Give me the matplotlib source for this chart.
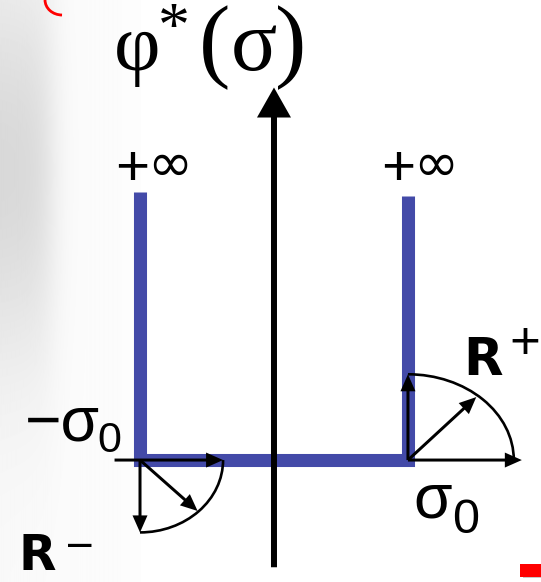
import numpy as np
import matplotlib
matplotlib.use("Agg")
import matplotlib.pyplot as plt
from matplotlib.patches import Arc, Rectangle

# sigma measured in units of sigma_0, phi* drawn as a well with "infinite" walls
sigma_wall = [-1.0, -1.0, 1.0, 1.0]
phi_wall = [2.0, 0.0, 0.0, 1.97]

# normal cone R- at -sigma_0: tips of the three arrows
cone_minus_tip_x = [-0.38, -0.57, -1.0]
cone_minus_tip_y = [0.0, -0.38, -0.54]
cone_minus_radii = (0.62, 0.54)
cone_minus_tail = -1.19

# normal cone R+ at +sigma_0
cone_plus_tip_x = [1.85, 1.51, 1.0]
cone_plus_tip_y = [0.0, 0.47, 0.64]
cone_plus_radii = (0.79, 0.64)

# vertical phi* axis
axis_low, axis_high = -0.80, 2.78

BLUE = "#434aa8"

fig = plt.figure(figsize=(5.41, 5.82), dpi=100)
ax = fig.add_axes([0, 0, 1, 1])
ax.set_xlim(-2.045, 1.993)
ax.set_ylim(-0.910, 3.433)
ax.set_aspect("equal")
ax.axis("off")

# faded grey photo on the left edge
yy, xx = np.mgrid[0:582, 0:140]
shade = 0.13 / (1 + np.exp((xx - 50) / 8)) * np.exp(-((yy - 170) / 200) ** 2)
shade += 0.012 * (1 - xx / 140)
bg = 0.99 - shade
ax.imshow(bg, cmap="gray", vmin=0, vmax=1, extent=(-2.045, -1.0, -0.910, 3.433),
          aspect="auto", zorder=0, interpolation="bilinear")

# phi* well
ax.plot(sigma_wall, phi_wall, color=BLUE, lw=9.4, solid_joinstyle="miter",
        solid_capstyle="butt", zorder=2)

# vertical axis
ax.arrow(0, axis_low, 0, axis_high - axis_low, width=6 / 134, head_width=34 / 134,
         head_length=30 / 134, length_includes_head=True, color="black", lw=0, zorder=3)


def cone(x0, tips_x, tips_y, radii, theta1, theta2, tail=None):
    for tx, ty in zip(tips_x, tips_y):
        sx = tail if (tail is not None and ty == 0) else x0
        ax.arrow(sx, 0, tx - sx, ty, width=3 / 134, head_width=15 / 134,
                 head_length=17 / 134, length_includes_head=True, color="black",
                 lw=0, zorder=4)
    ax.add_patch(Arc((x0, 0), 2 * radii[0], 2 * radii[1], theta1=theta1, theta2=theta2,
                     color="black", lw=1.9, zorder=4))


cone(-1.0, cone_minus_tip_x, cone_minus_tip_y, cone_minus_radii, 270, 360, tail=cone_minus_tail)
cone(1.0, cone_plus_tip_x, cone_plus_tip_y, cone_plus_radii, 0, 90)

serif = "Liberation Serif"
sans = "Liberation Sans"

# title phi*(sigma)
ax.text(-1.02, 2.91, "φ", fontsize=58, family=serif, ha="center", va="baseline")
ax.text(-0.75, 3.09, "*", fontsize=46, family=serif, ha="center", va="baseline")
ax.text(-0.44, 2.91, "(", fontsize=68, family=serif, ha="center", va="baseline")
ax.text(-0.149, 2.91, "σ", fontsize=62, family=serif, ha="center", va="baseline")
ax.text(0.127, 2.91, ")", fontsize=68, family=serif, ha="center", va="baseline")

# infinity markers
for cx in (-0.907, 1.08):
    ax.text(cx - 0.155, 2.05, "+", fontsize=42, family=sans, ha="center", va="baseline")
    ax.text(cx + 0.13, 2.08, "∞", fontsize=39, family="DejaVu Sans", ha="center",
            va="baseline")

# -sigma_0 and sigma_0
ax.text(-1.86, 0.149, "−σ", fontsize=45, family=sans, ha="left", va="baseline")
ax.text(-1.32, 0.06, "0", fontsize=31, family=sans, ha="left", va="baseline")
ax.text(1.04, -0.425, "σ", fontsize=45, family=sans, ha="left", va="baseline")
ax.text(1.33, -0.545, "0", fontsize=35, family=sans, ha="left", va="baseline")

# cone labels
ax.text(-1.91, -0.821, "R", fontsize=35, family="DejaVu Sans", weight="bold",
        ha="left", va="baseline")
ax.text(-1.448, -0.724, "−", fontsize=27, family="DejaVu Sans", ha="center", va="baseline")
ax.text(1.41, 0.634, "R", fontsize=37, family="DejaVu Sans", weight="bold",
        ha="left", va="baseline")
ax.text(1.873, 0.754, "+", fontsize=38, family=sans, ha="center", va="baseline")

# red slide fragments
ax.add_patch(Arc((-1.582, 3.433), 0.254, 0.224, theta1=180, theta2=270, color="red",
                 lw=2.0, zorder=5))
ax.add_patch(Rectangle((1.86, -0.883), 0.16, 0.075, color="#c8c8c8", lw=0, zorder=5))
ax.add_patch(Rectangle((1.836, -0.87), 0.16, 0.097, color="red", lw=0, zorder=6))

fig.savefig("out.png", dpi=100)
